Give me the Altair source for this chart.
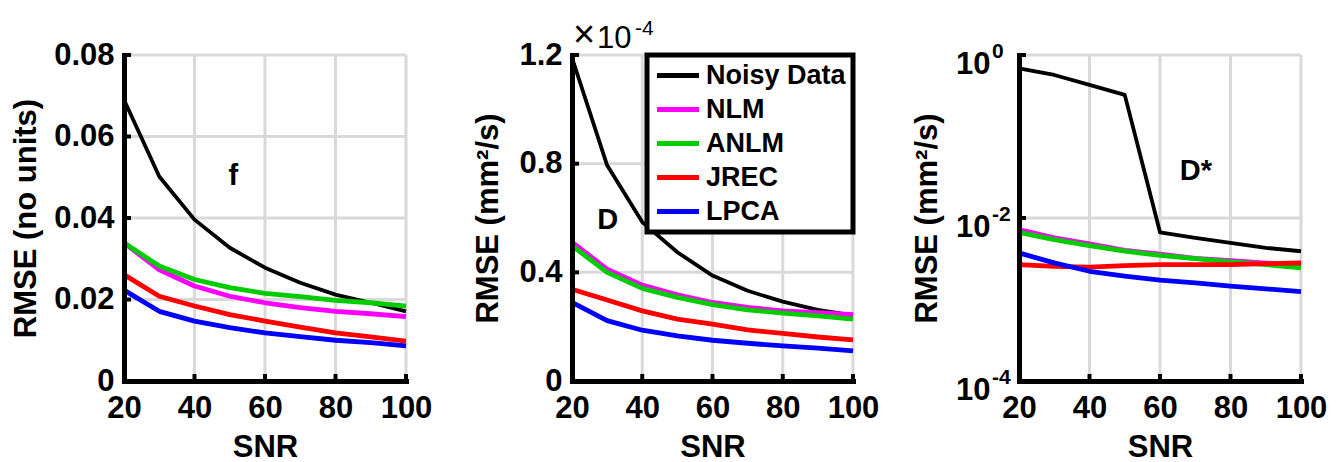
import altair as alt
import pandas as pd

FONT = "Liberation Sans"

snr = [20, 30, 40, 50, 60, 70, 80, 90, 100]
methods = ["Noisy Data", "NLM", "ANLM", "JREC", "LPCA"]
colors = ["#000000", "#ff00ff", "#00cc00", "#ff0000", "#0000ff"]

# panel f (no units)
f_noisy = [0.0690, 0.0502, 0.0396, 0.0327, 0.0278, 0.0241, 0.0212, 0.0192, 0.0171]
f_nlm = [0.0339, 0.0273, 0.0233, 0.0208, 0.0192, 0.0180, 0.0171, 0.0165, 0.0158]
f_anlm = [0.0339, 0.0282, 0.0249, 0.0229, 0.0215, 0.0207, 0.0198, 0.0192, 0.0184]
f_jrec = [0.0261, 0.0208, 0.0184, 0.0163, 0.0147, 0.0132, 0.0118, 0.0108, 0.0098]
f_lpca = [0.0223, 0.0171, 0.0147, 0.0131, 0.0118, 0.0109, 0.0100, 0.0094, 0.0086]

# panel D, in units of 1e-4 mm^2/s
d_noisy = [1.19, 0.794, 0.585, 0.474, 0.388, 0.332, 0.292, 0.262, 0.242]
d_nlm = [0.511, 0.412, 0.353, 0.317, 0.289, 0.271, 0.258, 0.252, 0.244]
d_anlm = [0.498, 0.400, 0.341, 0.308, 0.281, 0.262, 0.250, 0.240, 0.228]
d_jrec = [0.338, 0.298, 0.258, 0.228, 0.209, 0.188, 0.175, 0.162, 0.151]
d_lpca = [0.289, 0.222, 0.187, 0.166, 0.150, 0.139, 0.129, 0.121, 0.111]

# panel D* (mm^2/s), log axis
ds_noisy = [0.687, 0.569, 0.430, 0.324, 0.00667, 0.00569, 0.00494, 0.00430, 0.00391]
ds_nlm = [0.0072, 0.0057, 0.0048, 0.0040, 0.0036, 0.0032, 0.0030, 0.0028, 0.0026]
ds_anlm = [0.00667, 0.00543, 0.00459, 0.00391, 0.00349, 0.00318, 0.00289, 0.00268, 0.00244]
ds_jrec = [0.00268, 0.00255, 0.00250, 0.00260, 0.00268, 0.00268, 0.00268, 0.00275, 0.00281]
ds_lpca = [0.00373, 0.00281, 0.00222, 0.00193, 0.00173, 0.00160, 0.00146, 0.00135, 0.00125]

x_ticks = [20, 40, 60, 80, 100]
f_ticks = [0, 0.02, 0.04, 0.06, 0.08]
d_ticks = [0, 0.4, 0.8, 1.2]
ds_ticks = [1e-4, 1e-2, 1]
ds_exponents = ["-4", "-2", "0"]

W1, W2, W3 = 282, 281, 282
H = 326
GRID = "#d9d9d9"


def long_df(series):
    rows = []
    for i, (m, vals) in enumerate(zip(methods, series)):
        for s, v in zip(snr, vals):
            rows.append({"SNR": s, "RMSE": v, "method": m, "k": i})
    return pd.DataFrame(rows)


def xscale():
    return alt.Scale(domain=[20, 100], nice=False, zero=False)


def x_enc():
    return alt.X(
        "SNR:Q",
        scale=xscale(),
        axis=alt.Axis(values=x_ticks, title="SNR", labelPadding=12, titlePadding=9,
                      format="d", grid=False, zindex=1),
    )


def grid_layers(yscale, yticks, w, h):
    xg = alt.Chart(pd.DataFrame({"SNR": x_ticks})).mark_rule(color=GRID, strokeWidth=3).encode(
        x=alt.X("SNR:Q", scale=xscale()), y=alt.value(0), y2=alt.value(h))
    yg = alt.Chart(pd.DataFrame({"RMSE": yticks})).mark_rule(color=GRID, strokeWidth=3).encode(
        y=alt.Y("RMSE:Q", scale=yscale), x=alt.value(0), x2=alt.value(w))
    return [xg, yg]


def tick_layers(yscale, yticks, h):
    xt = alt.Chart(pd.DataFrame({"SNR": x_ticks})).mark_rule(color="black", strokeWidth=4).encode(
        x=alt.X("SNR:Q", scale=xscale()),
        y=alt.value(h),
        y2=alt.value(h - 7),
    )
    yt = alt.Chart(pd.DataFrame({"RMSE": yticks})).mark_rule(color="black", strokeWidth=4).encode(
        y=alt.Y("RMSE:Q", scale=yscale),
        x=alt.value(0),
        x2=alt.value(7),
    )
    return [xt, yt]


def panel(series, yscale, yaxis, width, ann, yticks, legend=None, extra=None):
    df = long_df(series)
    color = alt.Color("method:N", scale=alt.Scale(domain=methods, range=colors),
                      legend=legend, sort=methods)
    lines = alt.Chart(df).mark_line(strokeCap="butt", strokeJoin="round").encode(
        x=x_enc(),
        y=alt.Y("RMSE:Q", scale=yscale, axis=yaxis),
        color=color,
        strokeWidth=alt.condition(alt.datum.k == 0, alt.value(3.8), alt.value(4.8)),
        order=alt.Order("k:Q"),
    )
    ann_df = pd.DataFrame({"SNR": [ann[0]], "RMSE": [ann[1]], "label": [ann[2]]})
    text = alt.Chart(ann_df).mark_text(font=FONT, fontSize=29, fontWeight="bold", color="black").encode(
        x=alt.X("SNR:Q", scale=xscale()),
        y=alt.Y("RMSE:Q", scale=yscale),
        text="label:N",
    )
    layers = grid_layers(yscale, yticks, width, H) + [lines] + tick_layers(yscale, yticks, H) + [text]
    if extra:
        layers += extra
    return alt.layer(*layers).properties(width=width, height=H)


ax_common = dict(grid=False, zindex=1)

# Panel 1
s1 = alt.Scale(domain=[0, 0.08], nice=False, zero=False)
a1 = alt.Axis(values=f_ticks, title="RMSE (no units)", labelPadding=10, titlePadding=11,
              labelExpr="datum.value == 0 ? '0' : format(datum.value, '.2f')", **ax_common)
p1 = panel([f_noisy, f_nlm, f_anlm, f_jrec, f_lpca], s1, a1, W1, (51, 0.0503, "f"), f_ticks)

# Panel 2
s2 = alt.Scale(domain=[0, 1.2], nice=False, zero=False)
a2 = alt.Axis(values=d_ticks, title="RMSE (mm²/s)", labelPadding=10, titlePadding=14,
              labelExpr="datum.value == 0 ? '0' : format(datum.value, '.1f')", **ax_common)
leg = alt.Legend(
    orient="none", legendX=75, legendY=0, title=None,
    symbolType="M-1,0H3", symbolSize=441, symbolStrokeWidth=4.8,
    labelFont=FONT, labelFontSize=27, labelFontWeight="bold", labelColor="black",
    labelOffset=25, rowPadding=6, padding=7,
    strokeColor="black", fillColor="white",
)
times_df = pd.DataFrame({"t": ["×"]})
times = alt.Chart(times_df).mark_text(font=FONT, fontSize=38, align="left", baseline="alphabetic",
                                      color="black").encode(
    x=alt.value(1), y=alt.value(-8), text="t:N")
mult_df = pd.DataFrame({"t": ["10"]})
mult = alt.Chart(mult_df).mark_text(font=FONT, fontSize=31, align="left", baseline="alphabetic",
                                    color="black").encode(
    x=alt.value(25), y=alt.value(-7), text="t:N")
mexp_df = pd.DataFrame({"t": ["-4"]})
mexp = alt.Chart(mexp_df).mark_text(font=FONT, fontSize=21, align="left", baseline="alphabetic",
                                    color="black").encode(
    x=alt.value(63), y=alt.value(-20), text="t:N")
p2 = panel([d_noisy, d_nlm, d_anlm, d_jrec, d_lpca], s2, a2, W2, (30.2, 0.593, "D"), d_ticks,
           legend=leg, extra=[times, mult, mexp])

# Panel 3
s3 = alt.Scale(type="log", domain=[1e-4, 1], nice=False)
a3 = alt.Axis(values=ds_ticks, title="RMSE (mm²/s)", labelPadding=29, titlePadding=12,
              labelExpr="'10'", labelBaseline="alphabetic", labelOffset=18, **ax_common)
exp_df = pd.DataFrame({"RMSE": ds_ticks, "e": ds_exponents})
exps = alt.Chart(exp_df).mark_text(font=FONT, fontSize=21, fontWeight="bold", align="left",
                                   baseline="alphabetic", dy=3, color="black").encode(
    y=alt.Y("RMSE:Q", scale=s3), x=alt.value(-27), text="e:N")
p3 = panel([ds_noisy, ds_nlm, ds_anlm, ds_jrec, ds_lpca], s3, a3, W3, (70.2, 0.0378, "D*"), ds_ticks,
           extra=[exps])

chart = alt.hconcat(p1, p2, p3, spacing=166, bounds="flush").resolve_legend(
    color="independent"
).configure_axis(
    labelFont=FONT, labelFontSize=31, labelFontWeight="bold", labelColor="black",
    titleFont=FONT, titleFontSize=31, titleFontWeight="bold", titleColor="black",
    domainColor="black", domainWidth=5, domainCap="square",
    ticks=False, labelFlush=False, labelOverlap=False,
).configure_legend(
    strokeWidth=5,
).configure_view(stroke=None).properties(
    padding={"left": 2, "top": 9, "right": 5, "bottom": 0},
    background="white",
)

chart.save("out.html", embed_options={"renderer": "svg", "actions": False})
